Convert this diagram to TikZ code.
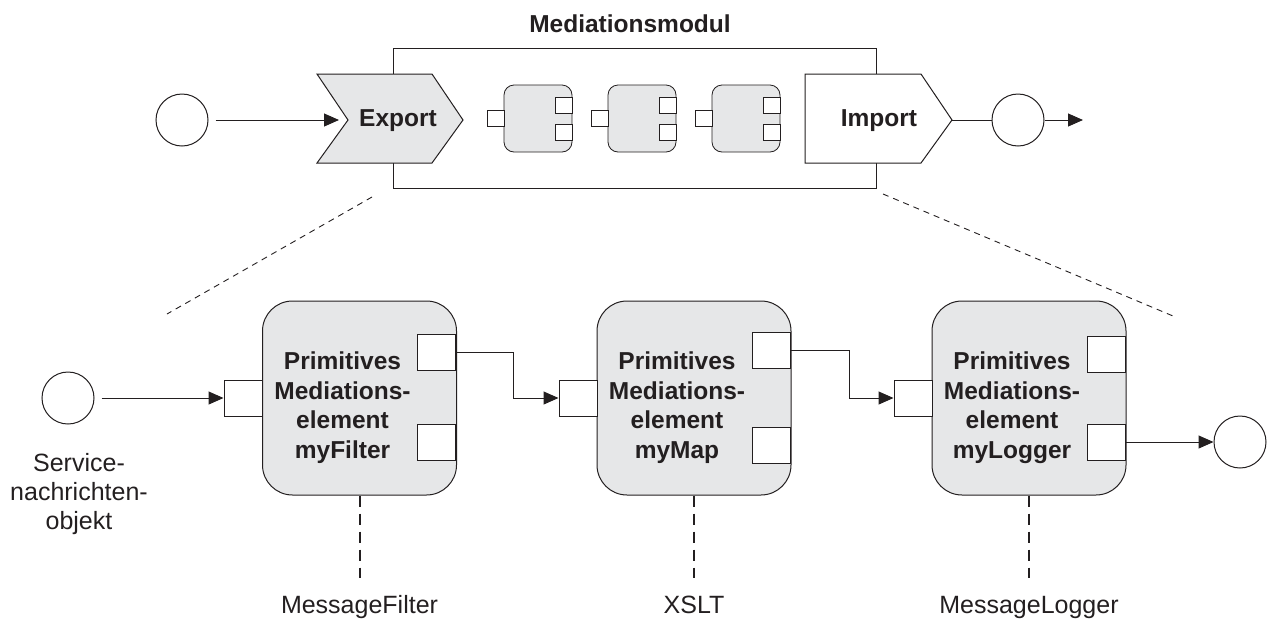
\documentclass[tikz,border=0pt]{standalone}
\usepackage{fontspec}
\setmainfont{Liberation Sans}
\usetikzlibrary{arrows.meta}
\definecolor{ink}{HTML}{231F20}
\definecolor{boxgray}{HTML}{E6E7E8}
\begin{document}
\begin{tikzpicture}[x=1pt,y=-1pt,
  ln/.style={draw=ink, line width=1pt},
  arr/.style={ln, -{Triangle[length=15pt,width=13pt]}},
  circ/.style={circle, draw=ink, line width=1pt, minimum size=52pt, inner sep=0pt, fill=white},
  port/.style={rectangle, draw=ink, line width=1pt, fill=white, minimum width=38pt, minimum height=36pt, inner sep=0pt},
  sport/.style={rectangle, draw=ink, line width=0.8pt, fill=white, minimum width=17pt, minimum height=16pt, inner sep=0pt},
  prim/.style={rectangle, rounded corners=30pt, draw=ink, line width=1pt, fill=boxgray, minimum width=194pt, minimum height=194pt, inner sep=0pt},
  sprim/.style={rectangle, rounded corners=10pt, draw=ink, line width=0.8pt, fill=boxgray, minimum width=68pt, minimum height=67pt, inner sep=0pt},
  btxt/.style={font=\fontsize{24.5}{29.5}\selectfont\bfseries, text=ink, align=center, inner sep=0pt},
  rtxt/.style={font=\fontsize{25}{29}\selectfont, text=ink, align=center, inner sep=0pt},
  vdash/.style={draw=ink, line width=2pt, dash pattern=on 11pt off 7pt},
  ddash/.style={draw=ink, line width=0.9pt, dash pattern=on 6pt off 5pt},
]
\useasboundingbox (0,0) rectangle (1269,619);

% ---------- top: mediation module ----------
\node[btxt, anchor=base] (title) at (630,32) {Mediationsmodul};
\node[draw=ink, line width=1pt, minimum width=483pt, minimum height=140pt, inner sep=0pt] (mod) at (634.5,118) {};

\draw[ln, fill=boxgray] (317,74) -- (432,74) -- (463,120) -- (432,163) -- (317,163) -- (348,120) -- cycle;
\node[btxt, anchor=base] (export) at (398,126) {Export};

\draw[ln, fill=white] (805,74) -- (921,74) -- (952,120) -- (921,163) -- (805,163) -- cycle;
\node[btxt, anchor=base] (import) at (879,126) {Import};

\foreach \i/\cx in {1/538,2/642,3/746}{
  \node[sprim] (s\i) at (\cx,118.5) {};
  \node[sport] (s\i in) at (\cx-42.5,118.5) {};
  \node[sport] (s\i a) at (\cx+25.5,105.5) {};
  \node[sport] (s\i b) at (\cx+25.5,132) {};
}

\node[circ] (c1) at (182,120) {};
\coordinate (extip) at (339,120);
\draw[arr, shorten <=7pt] (c1) -- (extip);

\coordinate (imtip) at (952,120);
\node[circ] (c3) at (1018,120) {};
\coordinate (endarr) at (1083,120);
\draw[ln] (imtip) -- (c3);
\draw[arr] (c3) -- (endarr);

% ---------- zoom lines ----------
\coordinate (dl1) at (372,197);
\coordinate (dl2) at (167,314);
\coordinate (dr1) at (883,194);
\coordinate (dr2) at (1173,316);
\draw[ddash] (dl1) -- (dl2);
\draw[ddash] (dr1) -- (dr2);

% ---------- bottom: primitives ----------
\node[prim] (b1) at (359.5,398) {};
\node[prim] (b2) at (694,398) {};
\node[prim] (b3) at (1029,398) {};

\node[port] (p1in) at (243,398) {};
\node[port] (p1a) at (436.5,352) {};
\node[port] (p1b) at (436.5,442) {};
\node[port] (p2in) at (578,398) {};
\node[port] (p2a) at (771.5,350) {};
\node[port] (p2b) at (771.5,445) {};
\node[port] (p3in) at (913,398) {};
\node[port] (p3a) at (1106.5,354) {};
\node[port] (p3b) at (1106.5,442) {};

\node[btxt, anchor=north] (t1) at (342.5,352) {Primitives\\Mediations-\\element\\myFilter};
\node[btxt, anchor=north] (t2) at (677,352) {Primitives\\Mediations-\\element\\myMap};
\node[btxt, anchor=north] (t3) at (1012,352) {Primitives\\Mediations-\\element\\myLogger};

\node[circ] (c2) at (68,398) {};
\node[rtxt, anchor=north] (svc) at (79,453) {Service-\\nachrichten-\\objekt};
\node[circ] (c4) at (1240,442) {};

\draw[arr, shorten <=7pt] (c2) -- (p1in.west);
\draw[arr] (p1a.east) -- ++(57,0) |- (p2in.west);
\draw[arr] (p2a.east) -- ++(58,0) |- (p3in.west);
\draw[arr] (p3b.east) -- (c4);

\coordinate (d1) at (359.5,578);
\coordinate (d2) at (694,578);
\coordinate (d3) at (1029,578);
\draw[vdash] (b1.south) -- (d1);
\draw[vdash] (b2.south) -- (d2);
\draw[vdash] (b3.south) -- (d3);

\node[rtxt, anchor=base] (l1) at (359.5,613) {MessageFilter};
\node[rtxt, anchor=base] (l2) at (694,613) {XSLT};
\node[rtxt, anchor=base] (l3) at (1029,613) {MessageLogger};
\end{tikzpicture}
\end{document}
